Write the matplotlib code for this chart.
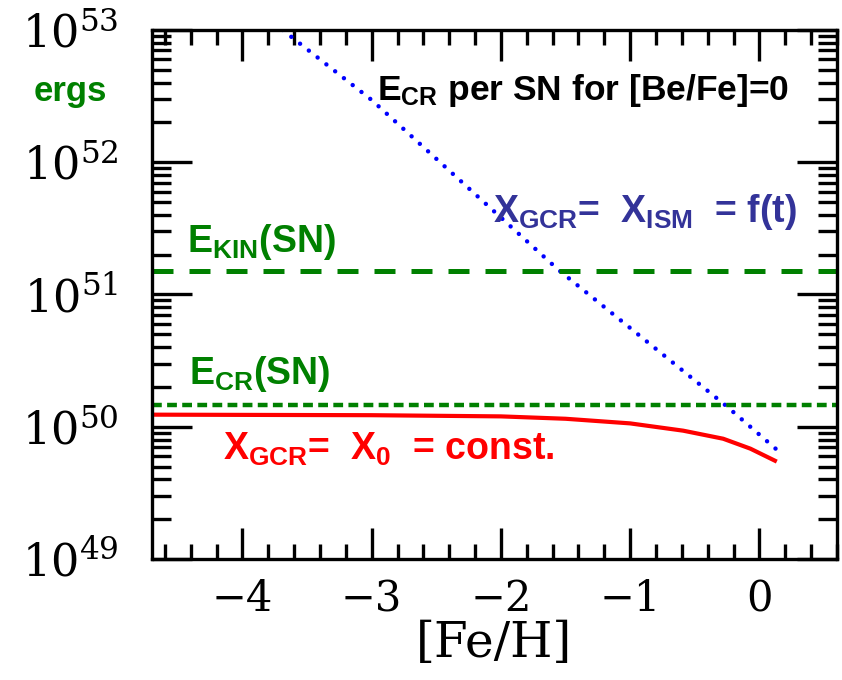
"""
E_CR per SN for [Be/Fe]=0 versus [Fe/H]
"""
import numpy as np
import matplotlib
matplotlib.use("Agg")
import matplotlib.pyplot as plt
from matplotlib import font_manager
from matplotlib.ticker import MultipleLocator, FixedLocator, NullFormatter

"""
Data (read off the picture, log10 of energy in ergs)
"""
feh_ism = [-3.69, -3.0, -1.56, -0.26, 0.13]
logE_ism = [53.0, 52.47, 51.19, 50.16, 49.83]

feh_const = [-4.70, -3.0, -2.0, -1.5, -1.0, -0.59, -0.28, -0.07, 0.12]
logE_const = [50.091, 50.087, 50.078, 50.060, 50.025, 49.970, 49.909, 49.834, 49.743]

E_kin = 1.5e51
E_cr = 1.45e50

xticks = [-4, -3, -2, -1, 0]
xticklabels = ["\u22124", "\u22123", "\u22122", "\u22121", "0"]
yticks = [1e49, 1e50, 1e51, 1e52, 1e53]
yticklabels = [r"$10^{49}$", r"$10^{50}$", r"$10^{51}$", r"$10^{52}$", r"$10^{53}$"]

"""
Fonts
"""
names = {f.name for f in font_manager.fontManager.ttflist}
sans = "Liberation Sans Narrow" if "Liberation Sans Narrow" in names else "Liberation Sans"
plt.rcParams["font.family"] = [sans, "DejaVu Sans"]
plt.rcParams["mathtext.fontset"] = "custom"
plt.rcParams["mathtext.rm"] = sans + ":bold"
plt.rcParams["mathtext.it"] = sans + ":bold"
plt.rcParams["mathtext.bf"] = sans + ":bold"

"""
Plot
"""
fig = plt.figure(figsize=(8.42, 6.80), dpi=100)
ax = fig.add_axes([0.1805, 0.178, 0.8135, 0.778])

ax.plot(feh_ism, 10 ** np.array(logE_ism), color="#0000ff", lw=3.2,
        linestyle=(0, (0.01, 2.5)), dash_capstyle="round")
ax.plot(feh_const, 10 ** np.array(logE_const), color="#ff0000", lw=3.0)
ax.axhline(E_kin, color="#008000", lw=3.6, linestyle=(0, (4.2, 3.2)))
ax.axhline(E_cr, color="#008000", lw=3.2, linestyle=(0, (2.2, 1.2)))

ax.set_yscale("log")
ax.set_xlim(-4.7, 0.6)
ax.set_ylim(1e49, 1e53)

# ticks
ax.xaxis.set_major_locator(FixedLocator(xticks))
ax.set_xticklabels(xticklabels, family="DejaVu Serif", fontsize=30, weight="normal")
ax.xaxis.set_minor_locator(MultipleLocator(0.2))
ax.yaxis.set_major_locator(FixedLocator(yticks))
ax.set_yticklabels(yticklabels, fontsize=32, weight="normal", math_fontfamily="dejavuserif")
ax.yaxis.set_minor_locator(matplotlib.ticker.LogLocator(base=10, subs=np.arange(2, 10)))
ax.yaxis.set_minor_formatter(NullFormatter())

ax.tick_params(which="both", direction="in", top=True, right=True, width=2.4, color="black")
ax.tick_params(axis="x", which="major", length=22, pad=14)
ax.tick_params(axis="x", which="minor", length=11)
ax.tick_params(axis="y", which="major", length=29, pad=24)
ax.tick_params(axis="y", which="minor", length=14)
for s in ax.spines.values():
    s.set_linewidth(2.4)

ax.set_xlabel("[Fe/H]", family="DejaVu Serif", fontsize=35, weight="normal", labelpad=0)

# annotations
txt = dict(fontsize=27, weight="bold", va="baseline")
ax.text(-2.96, 10 ** 52.47, r"E$_{\mathrm{CR}}$ per SN for [Be/Fe]=0", color="black",
        **{**txt, "fontsize": 25.5})
ax.text(-2.06, 10 ** 51.55, r"X$_{\mathrm{GCR}}$=  X$_{\mathrm{ISM}}$  = f(t)",
        color="#333399", **txt)
ax.text(-4.43, 10 ** 51.32, r"E$_{\mathrm{KIN}}$(SN)", color="#008000", **txt)
ax.text(-4.41, 10 ** 50.32, r"E$_{\mathrm{CR}}$(SN)", color="#008000", **txt)
ax.text(-4.15, 10 ** 49.75, r"X$_{\mathrm{GCR}}$=  X$_{\mathrm{0}}$  = const.",
        color="#ff0000", **txt)
fig.text(70 / 842, 1 - 92 / 680, "ergs", fontsize=25, weight="bold", color="#008000",
         ha="center", va="center")

plt.savefig("out.png", dpi=100)
